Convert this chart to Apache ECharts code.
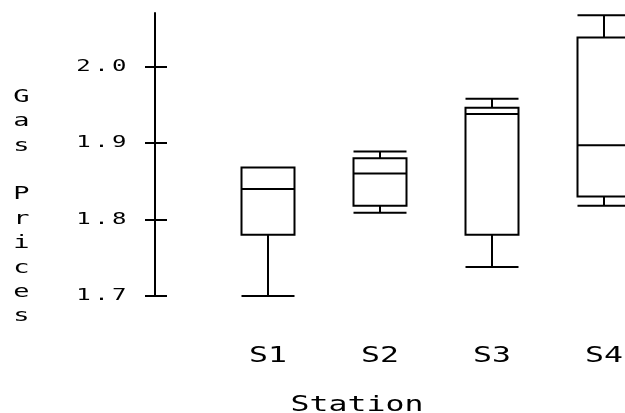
<!DOCTYPE html>
<html>
<head>
<meta charset="utf-8">
<script src="https://cdn.jsdelivr.net/npm/echarts@6/dist/echarts.min.js"></script>
<style>html,body{margin:0;padding:0;background:#fff}#c{width:625px;height:413px}</style>
</head>
<body>
<div id="c"></div>
<script>
const stations = ['S1', 'S2', 'S3', 'S4'];
// [min, Q1, median, Q3, max]
const s1 = [1.70, 1.78, 1.84, 1.868, 1.868];
const s2 = [1.809, 1.818, 1.86, 1.88, 1.889];
const s3 = [1.738, 1.78, 1.938, 1.946, 1.958];
const s4 = [1.818, 1.83, 1.897, 2.038, 2.067];
const yTicks = [1.7, 1.8, 1.9, 2.0];
const yTitle = 'Gas Prices';
const xTitle = 'Station';

// Emulate the wide, stretched bitmap font of the original: stretch glyphs horizontally.
(function () {
  const proto = CanvasRenderingContext2D.prototype;
  const orig = proto.fillText;
  proto.fillText = function (text, x, y, maxWidth) {
    const m = /(\d+(?:\.\d+)?)px/.exec(this.font);
    const size = m ? parseFloat(m[1]) : 12;
    this.save();
    try { this.letterSpacing = size < 19 ? '2.3px' : '0px'; } catch (e) {}
    this.translate(x, y);
    this.scale(1.5, 1);
    if (maxWidth === undefined) orig.call(this, text, 0, 0);
    else orig.call(this, text, 0, 0, maxWidth / 1.5);
    this.restore();
  };
})();

const font = 'DejaVu Sans Mono';
const chart = echarts.init(document.getElementById('c'));
const yBase = {
  type: 'value', min: 1.7, max: 2.07, position: 'left', offset: 113,
  splitLine: { show: false },
  axisLine: { show: true, lineStyle: { color: '#000', width: 2 } }
};
chart.setOption({
  animation: false,
  backgroundColor: '#fff',
  grid: { left: 268, top: 13, width: 336, height: 283 },
  xAxis: {
    type: 'category', data: stations, boundaryGap: false,
    axisLine: { show: false }, axisTick: { show: false },
    axisLabel: { interval: 0, margin: 50, color: '#000', fontFamily: font, fontSize: 21 }
  },
  yAxis: [
    Object.assign({}, yBase, {
      axisTick: { show: true, inside: false, length: 10, customValues: yTicks, lineStyle: { color: '#000', width: 2 } },
      axisLabel: { show: true, customValues: yTicks, margin: 25, color: '#000', fontFamily: font, fontSize: 16,
        formatter: v => v.toFixed(1) }
    }),
    Object.assign({}, yBase, {
      axisLine: { show: false },
      axisTick: { show: true, inside: true, length: 12, customValues: yTicks, lineStyle: { color: '#000', width: 2 } },
      axisLabel: { show: false }
    })
  ],
  graphic: [
    { type: 'text', x: 23, y: 85, style: { text: yTitle.split('').join('\n'), fontFamily: font, fontSize: 18, lineHeight: 24.4, fill: '#000', align: 'center', verticalAlign: 'top' } },
    { type: 'text', x: 357, y: 406, style: { text: xTitle, fontFamily: font, fontSize: 21, fill: '#000', align: 'center', verticalAlign: 'middle' } }
  ],
  series: [{
    type: 'boxplot',
    boxWidth: [53, 53],
    itemStyle: { color: '#fff', borderColor: '#000', borderWidth: 2 },
    data: [s1, s2, s3, s4]
  }]
});
</script>
</body>
</html>
